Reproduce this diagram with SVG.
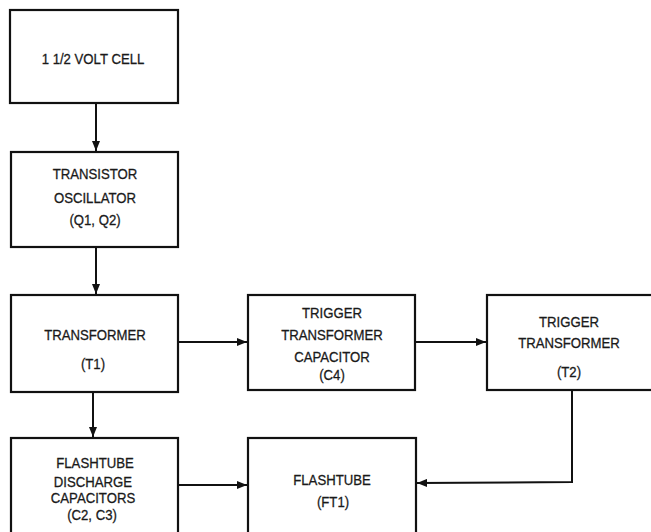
<svg xmlns="http://www.w3.org/2000/svg" width="651" height="532" viewBox="0 0 651 532">
<style>
.box{fill:#fff;stroke:#111;stroke-width:2.2}
.t{font-family:"Liberation Sans",Arial,sans-serif;font-size:15.5px;fill:#1a1a1a;text-anchor:middle;stroke:#1a1a1a;stroke-width:0.3}
.c{fill:none;stroke:#111;stroke-width:2}
</style>
<defs>
<marker id="ah" viewBox="0 0 10 8" refX="10" refY="4" markerWidth="10" markerHeight="8" markerUnits="userSpaceOnUse" orient="auto">
<path d="M0,0 L10,4 L0,8 Z" fill="#111"/>
</marker>
</defs>
<rect width="651" height="532" fill="#fff"/>
<g id="connectors">
<line class="c" x1="96" y1="103" x2="96" y2="151" marker-end="url(#ah)"/>
<line class="c" x1="96" y1="247" x2="96" y2="294" marker-end="url(#ah)"/>
<line class="c" x1="178" y1="342" x2="247" y2="342" marker-end="url(#ah)"/>
<line class="c" x1="415" y1="342" x2="486" y2="342" marker-end="url(#ah)"/>
<line class="c" x1="93" y1="392" x2="93" y2="437" marker-end="url(#ah)"/>
<line class="c" x1="178" y1="485" x2="247" y2="485" marker-end="url(#ah)"/>
<polyline class="c" points="572,390 572,482 417,483" marker-end="url(#ah)"/>
</g>
<g id="cell">
<rect class="box" x="10" y="10" width="168" height="93"/>
<text class="t" transform="translate(93,64) scale(0.85,1)">1 1/2 VOLT CELL</text>
</g>
<g id="oscillator">
<rect class="box" x="11" y="152" width="167" height="95"/>
<text class="t" transform="translate(95,179) scale(0.85,1)">TRANSISTOR</text>
<text class="t" transform="translate(95,203) scale(0.85,1)">OSCILLATOR</text>
<text class="t" transform="translate(95,225) scale(0.85,1)">(Q1, Q2)</text>
</g>
<g id="transformer">
<rect class="box" x="11" y="295" width="167" height="97"/>
<text class="t" transform="translate(95,340) scale(0.85,1)">TRANSFORMER</text>
<text class="t" transform="translate(93,369) scale(0.85,1)">(T1)</text>
</g>
<g id="trigger-capacitor">
<rect class="box" x="248" y="295" width="167" height="95"/>
<text class="t" transform="translate(332,318) scale(0.85,1)">TRIGGER</text>
<text class="t" transform="translate(332,340) scale(0.85,1)">TRANSFORMER</text>
<text class="t" transform="translate(332,362) scale(0.85,1)">CAPACITOR</text>
<text class="t" transform="translate(332,380) scale(0.85,1)">(C4)</text>
</g>
<g id="trigger-transformer">
<rect class="box" x="487" y="295" width="180" height="95"/>
<text class="t" transform="translate(569,327) scale(0.85,1)">TRIGGER</text>
<text class="t" transform="translate(569,348) scale(0.85,1)">TRANSFORMER</text>
<text class="t" transform="translate(569,377) scale(0.85,1)">(T2)</text>
</g>
<g id="discharge-capacitors">
<rect class="box" x="11" y="438" width="167" height="110"/>
<text class="t" transform="translate(95,468) scale(0.85,1)">FLASHTUBE</text>
<text class="t" transform="translate(93,487) scale(0.85,1)">DISCHARGE</text>
<text class="t" transform="translate(93,503) scale(0.85,1)">CAPACITORS</text>
<text class="t" transform="translate(92,520) scale(0.85,1)">(C2, C3)</text>
</g>
<g id="flashtube">
<rect class="box" x="248" y="438" width="168" height="110"/>
<text class="t" transform="translate(332,485) scale(0.85,1)">FLASHTUBE</text>
<text class="t" transform="translate(333,507) scale(0.85,1)">(FT1)</text>
</g>
</svg>
